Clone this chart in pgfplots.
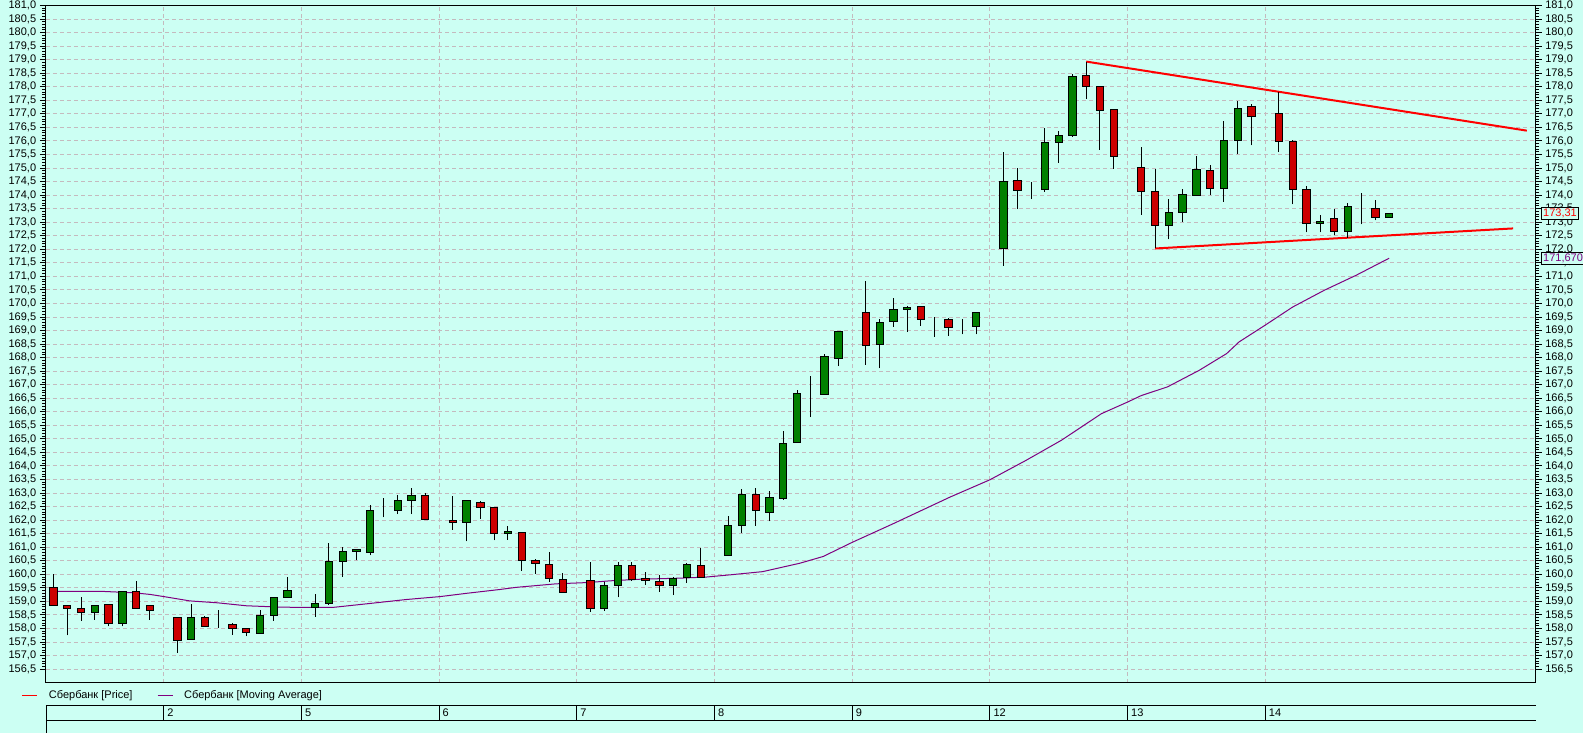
\documentclass[border=0pt]{standalone}
\usepackage{fontspec}
\setmainfont{Liberation Sans}
\usepackage{pgfplots}
\usepackage{pgfplotstable}
\pgfplotsset{compat=1.18}

\definecolor{bgc}{RGB}{204,255,243}
\definecolor{gridc}{RGB}{196,186,190}
\definecolor{cred}{RGB}{204,0,0}
\definecolor{cgreen}{RGB}{0,128,0}
\definecolor{mapurple}{RGB}{128,0,128}
\newcommand\fs{\fontsize{11}{13}\selectfont}

% hourly candles: index, open, high, low, close
\pgfplotstableread{
i o h l c
0 159.50 160.00 158.84 158.84
1 158.85 158.88 157.75 158.73
2 158.74 159.18 158.28 158.58
3 158.58 158.85 158.33 158.85
4 158.88 158.88 158.08 158.18
5 158.18 159.38 158.08 159.38
6 159.38 159.77 158.73 158.75
7 158.84 158.84 158.33 158.68
8 158.45 158.45 158.45 158.45
9 158.40 158.40 157.10 157.56
10 157.59 158.89 157.59 158.40
11 158.40 158.45 158.06 158.06
12 158.09 158.67 158.03 158.09
13 158.14 158.21 157.77 157.99
14 157.99 157.99 157.71 157.85
15 157.81 158.67 157.81 158.47
16 158.47 159.13 158.28 159.13
17 159.13 159.90 159.13 159.39
18 158.75 158.75 158.75 158.75
19 158.76 159.27 158.44 158.93
20 158.92 161.15 158.88 160.48
21 160.48 161.01 159.91 160.85
22 160.86 160.94 160.52 160.90
23 160.82 162.57 160.70 162.34
24 162.36 162.82 162.10 162.36
25 162.34 162.94 162.22 162.71
26 162.73 163.19 162.22 162.90
27 162.90 163.00 162.01 162.01
28 162.01 162.01 162.01 162.01
29 161.97 162.91 161.65 161.90
30 161.90 162.71 161.22 162.71
31 162.67 162.71 162.06 162.45
32 162.45 162.45 161.25 161.52
33 161.49 161.80 161.28 161.60
34 161.56 161.56 160.14 160.52
35 160.52 160.56 160.02 160.40
36 160.38 160.83 159.73 159.86
37 159.82 160.04 159.34 159.34
38 159.82 159.82 159.82 159.82
39 159.79 160.46 158.62 158.74
40 158.74 159.73 158.65 159.60
41 159.58 160.45 159.15 160.33
42 160.33 160.45 159.77 159.81
43 159.84 160.07 159.60 159.77
44 159.75 159.98 159.36 159.58
45 159.58 159.89 159.23 159.85
46 159.89 160.43 159.69 160.36
47 160.33 160.97 159.90 159.90
48 160.69 160.69 160.69 160.69
49 160.68 162.17 160.68 161.79
50 161.79 163.16 161.52 162.93
51 162.93 163.20 161.80 162.34
52 162.30 163.06 161.96 162.82
53 162.81 165.31 162.76 164.82
54 164.85 166.79 164.85 166.67
55 166.64 167.31 165.80 166.64
56 166.63 168.14 166.63 168.03
57 167.98 168.96 167.69 168.96
58 169.64 169.64 169.64 169.64
59 169.68 170.84 167.74 168.45
60 168.49 169.43 167.60 169.31
61 169.32 170.22 169.14 169.78
62 169.78 169.91 168.95 169.85
63 169.89 169.89 169.17 169.39
64 169.39 169.50 168.78 169.39
65 169.41 169.48 168.80 169.10
66 169.14 169.44 168.86 169.14
67 169.15 169.67 168.86 169.67
68 172.03 172.03 172.03 172.03
69 172.03 175.61 171.39 174.50
70 174.54 175.00 173.48 174.16
71 174.21 174.47 173.85 174.21
72 174.20 176.48 174.12 175.95
73 175.93 176.35 175.19 176.20
74 176.19 178.47 176.16 178.38
75 178.42 178.93 177.55 178.00
76 178.01 178.01 175.67 177.13
77 177.17 177.17 174.97 175.43
78 175.02 175.02 175.02 175.02
79 175.01 175.77 173.27 174.15
80 174.13 174.95 172.03 172.87
81 172.87 173.84 172.37 173.35
82 173.34 174.21 173.01 174.02
83 173.98 175.43 173.98 174.94
84 174.90 175.13 174.00 174.24
85 174.24 176.73 173.75 176.01
86 176.01 177.47 175.51 177.19
87 177.27 177.38 175.84 176.90
88 177.02 177.02 177.02 177.02
89 177.01 177.79 175.59 175.98
90 175.98 176.02 173.66 174.20
91 174.20 174.35 172.62 172.97
92 172.97 173.25 172.62 173.04
93 173.13 173.48 172.51 172.67
94 172.64 173.70 172.43 173.57
95 173.52 174.07 172.92 173.52
96 173.50 173.81 173.07 173.19
97 173.19 173.31 173.19 173.31
}\candles

% moving average
\pgfplotstableread{
i ma
0 159.37
3.6 159.37
5.8 159.32
7 159.26
8 159.18
9.9 159.02
11.9 158.95
14 158.84
16.5 158.79
18 158.78
20.3 158.78
22.7 158.91
25.6 159.07
28.1 159.18
30 159.30
32.4 159.44
33.6 159.52
36.5 159.65
38.9 159.70
40.4 159.76
42.6 159.82
45.5 159.86
47.4 159.90
49.1 159.98
51.5 160.10
54.2 160.41
55.9 160.66
58 161.18
60.9 161.85
65.1 162.85
68 163.49
70.6 164.20
73.2 164.95
76.1 165.93
78 166.36
79 166.60
80.9 166.92
83.2 167.53
85.2 168.15
86.1 168.58
88 169.20
90 169.87
92.3 170.49
94.6 171.04
97 171.67
}\matable

\pgfplotsset{
  cmn/.style={
    at={(46pt,-682.7pt)}, anchor=south west, scale only axis,
    width=1489.5pt, height=677.2pt,
    xmin=-0.545, xmax=107.63, ymin=156, ymax=181,
    ytick={156.5,157,...,181}, minor y tick num=4,
    tick align=outside, major tick length=6pt, minor tick length=3.5pt,
    tick style={black, line width=1pt},
    axis line style={line width=1pt, black},
    yticklabel style={/pgf/number format/.cd, fixed, fixed zerofill,
      precision=1, use comma, 1000 sep={}, assume math mode=true},
    tick label style={font=\fs},
  },
}

\begin{document}
\fs
\begin{tikzpicture}
\useasboundingbox (0,0) rectangle (1583pt,-733pt);
\fill[bgc] (0,0) rectangle (1583pt,-733pt);

\begin{axis}[cmn,
  ytick pos=left, yticklabel pos=left,
  xtick={8,18,...,88}, xticklabels={}, x tick style={draw=none},
  grid=major, major grid style={gridc, dash pattern=on 4pt off 3pt, line width=1pt},
  legend columns=2, legend cell align=left,
  legend image code/.code={\draw[#1] (0pt,0pt) -- (15pt,0pt);},
  legend style={at={(axis description cs:0,0)}, anchor=west,
    xshift=-24.3pt, yshift=-13pt, draw=none, fill=none, inner sep=0pt,
    font=\fs, nodes={inner sep=0pt},
    /tikz/every odd column/.append style={column sep=11pt},
    /tikz/every even column/.append style={column sep=24.6pt}},
]
\addlegendimage{red, line width=1pt}
\addlegendentry{Сбербанк [Price]}
\addlegendimage{mapurple, line width=1pt}
\addlegendentry{Сбербанк [Moving Average]}
\addplot[mapurple, line width=1pt, forget plot] table[x=i, y=ma] {\matable};
\addplot[red, line width=2pt, forget plot] coordinates {(75,178.93) (107.0,176.38)};
\addplot[red, line width=2pt, forget plot] coordinates {(80,172.03) (106.0,172.77)};
\addplot[forget plot, draw=none, mark=none,
  error bars/.cd, y dir=plus, y explicit, error mark=none,
  error bar style={draw=black, line width=1pt, solid}]
  table[x=i, y=l, y error plus expr={\thisrow{h}-\thisrow{l}}] {\candles};
\end{axis}

\begin{axis}[cmn,
  axis x line=none, axis y line*=right,
  ybar stacked, bar width=7.3pt,
]
\addplot[draw=none, fill=none] table[x=i, y expr={min(\thisrow{o},\thisrow{c})}] {\candles};
\addplot[fill=cgreen, draw=black, line width=1pt] table[x=i, y expr={max(\thisrow{c}-\thisrow{o},0)}] {\candles};
\addplot[fill=cred, draw=black, line width=1pt] table[x=i, y expr={max(\thisrow{o}-\thisrow{c},0)}] {\candles};
\coordinate (lastp) at (axis cs:107.63,173.31);
\coordinate (lastma) at (axis cs:107.63,171.67);
\end{axis}

\begin{axis}[at={(46pt,-720pt)}, anchor=south west, scale only axis,
  width=1489.5pt, height=14.7pt,
  xmin=-0.545, xmax=107.63, ymin=0, ymax=1,
  axis line style={draw=none}, ytick=\empty,
  xtick={8,18,...,88}, xticklabels={2,5,6,7,8,9,12,13,14},
  x tick style={draw=none}, xmajorgrids,
  major grid style={black, line width=1pt},
  extra y ticks={0,1}, extra y tick labels={},
  extra y tick style={grid=major, major grid style={black, line width=1pt}, tick style={draw=none}},
  xticklabel style={anchor=west, font=\fs, inner sep=0pt, xshift=3.5pt, yshift=7.3pt},
]
\addplot[draw=none] coordinates {(0,0.5)};
\end{axis}
\draw[line width=1pt] (46pt,-705.3pt) -- (46pt,-733pt);

\node[draw=black, line width=1pt, fill=bgc, text=red, anchor=west, xshift=5.2pt,
  inner xsep=2pt, inner ysep=1.5pt, font=\fs] at (lastp) {173,31};
\node[draw=black, line width=1pt, fill=bgc, text=mapurple, anchor=west, xshift=5.2pt,
  inner xsep=2pt, inner ysep=1.5pt, font=\fs] at (lastma) {171,670};
\end{tikzpicture}
\end{document}
